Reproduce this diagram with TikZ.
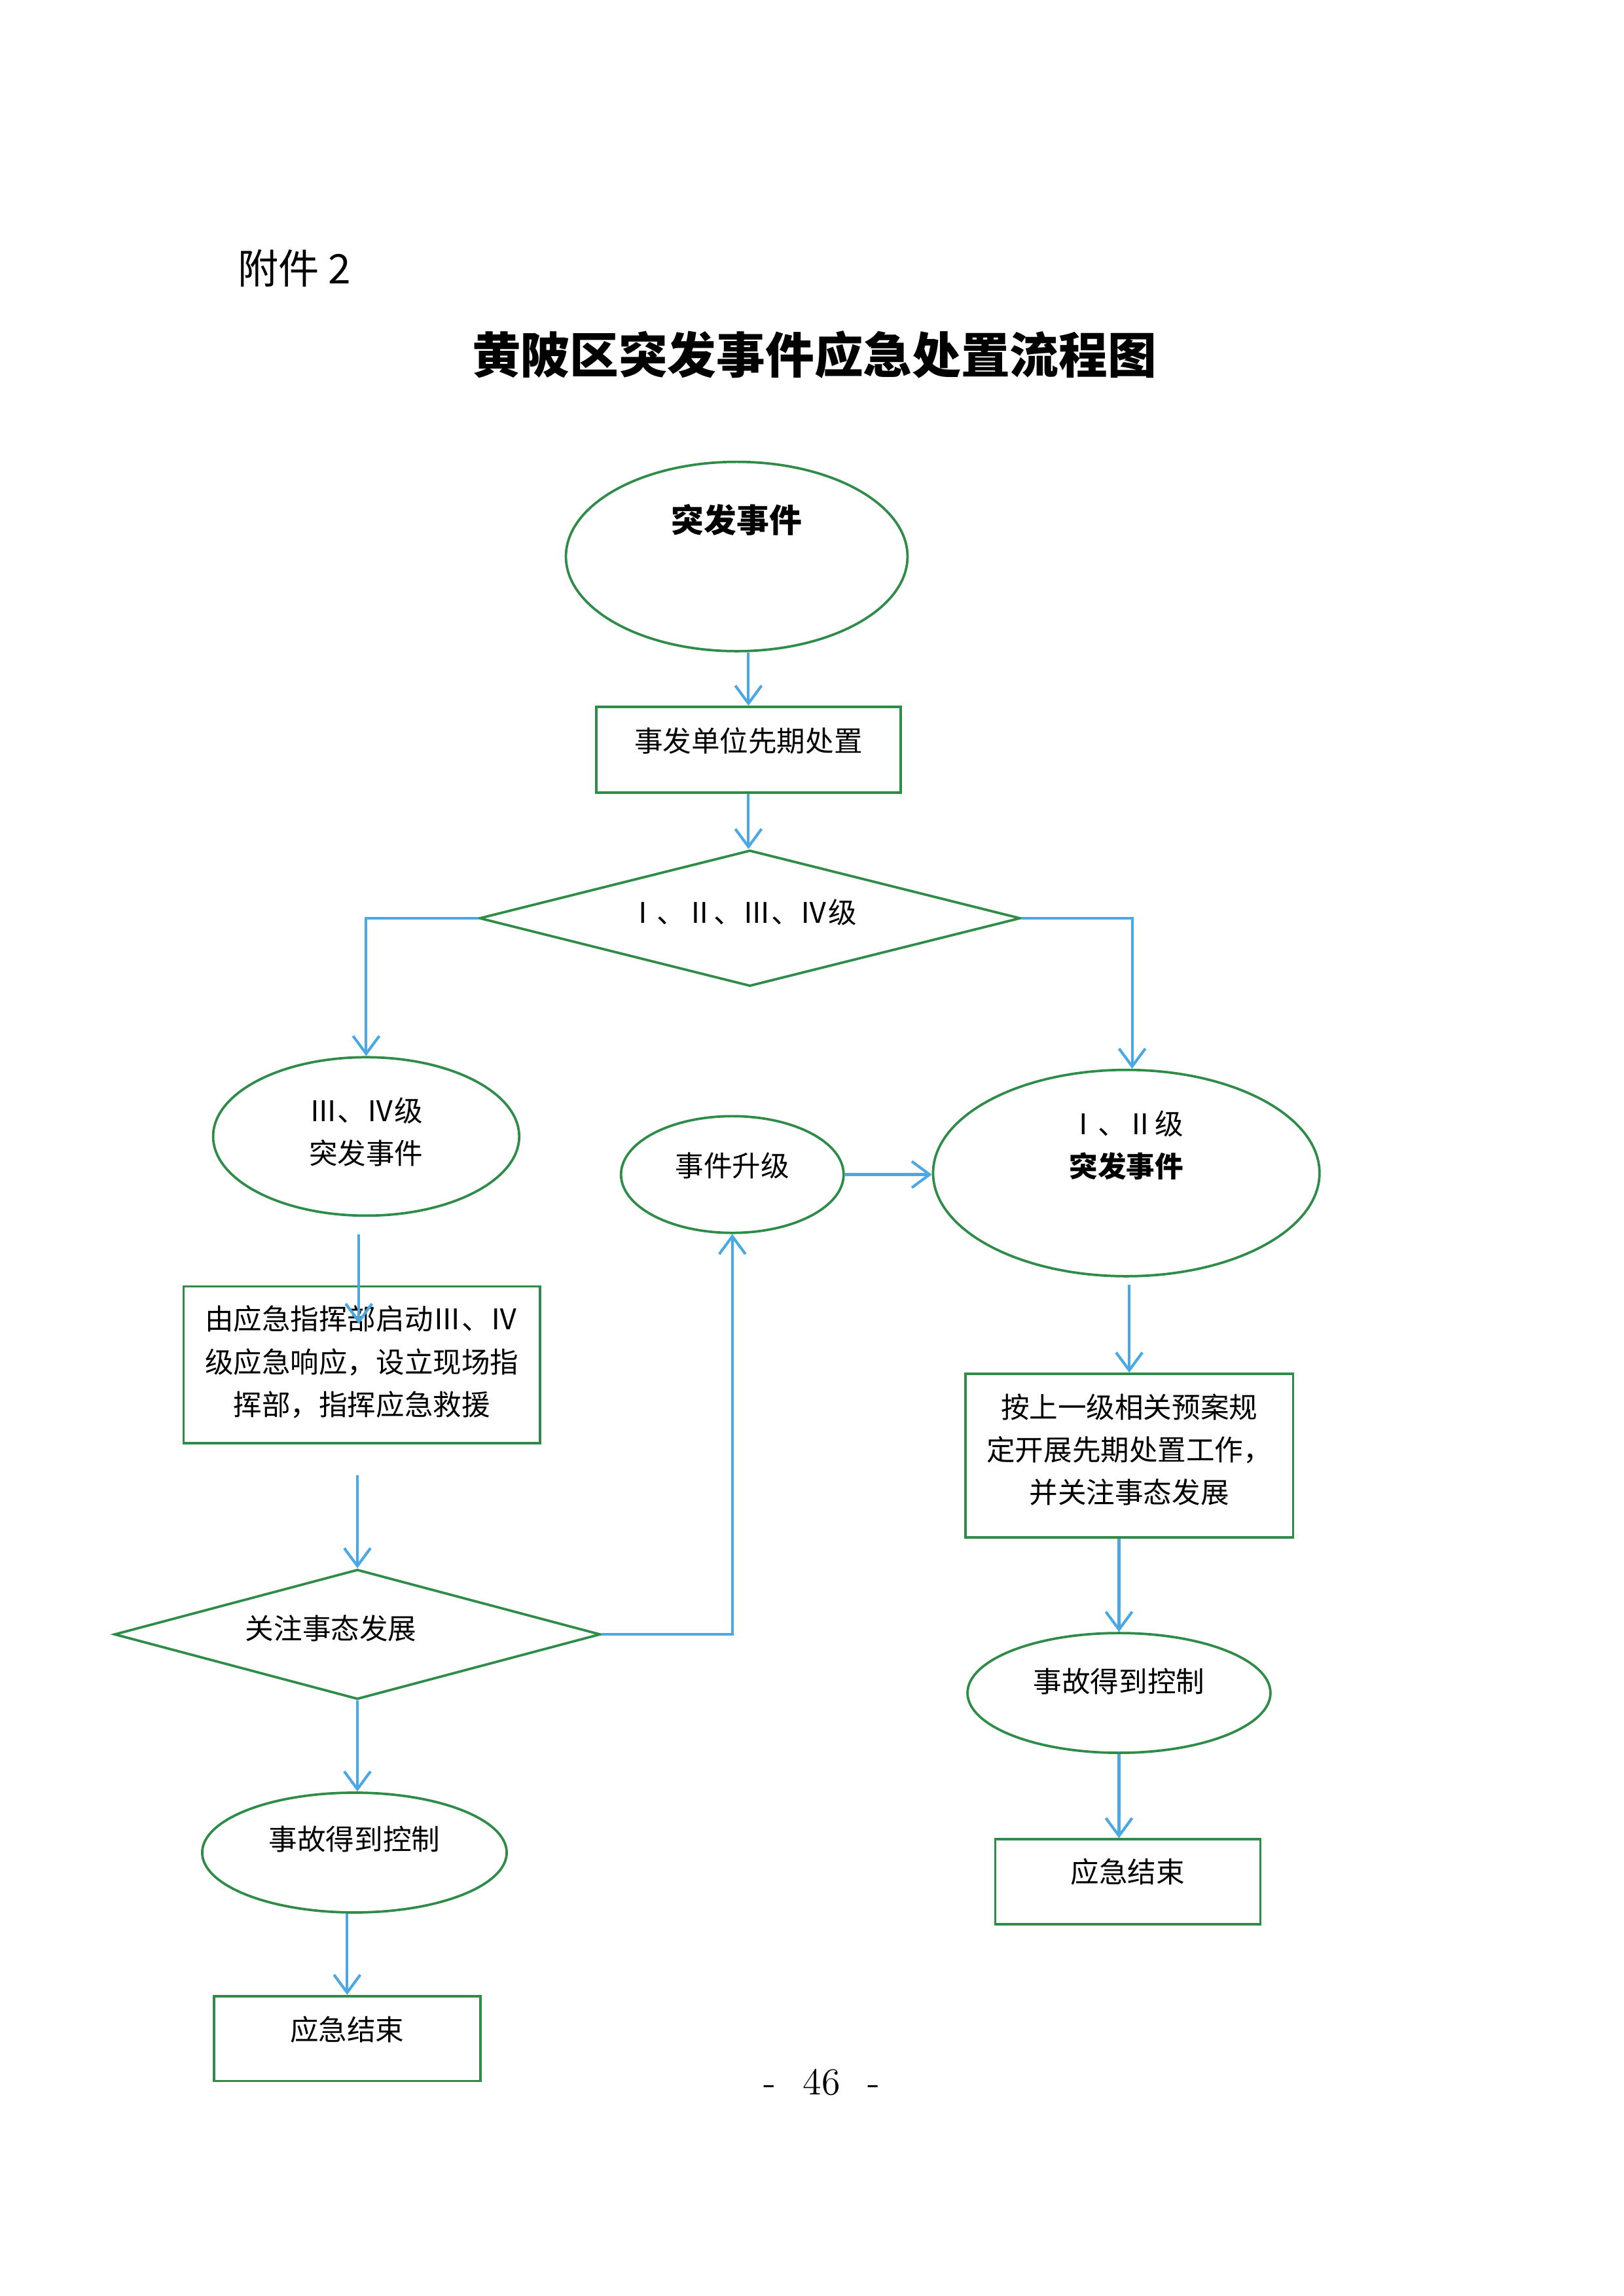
\documentclass[tikz,border=0pt]{standalone}
\usepackage{fontspec}
\newfontfamily\cjk{Noto Sans CJK SC}
\usetikzlibrary{shapes.geometric,arrows.meta,calc}
\definecolor{boxgreen}{RGB}{46,139,72}
\definecolor{arrowblue}{RGB}{74,168,228}
\tikzset{
  oval/.style={ellipse,draw=boxgreen,line width=0.9pt,inner sep=0pt},
  rect/.style={rectangle,draw=boxgreen,line width=0.9pt,inner sep=0pt},
  rhomb/.style={diamond,draw=boxgreen,line width=0.9pt,inner sep=0pt},
  lbl/.style={font=\cjk\fontsize{10.5pt}{15.7pt}\selectfont,align=center,inner sep=0pt},
  arr/.style={->,draw=arrowblue,line width=1pt}
}
\begin{document}
\begin{tikzpicture}[x=0.018944cm,y=-0.018944cm,>={Straight Barb[length=2.3mm,width=3.4mm]}]
\useasboundingbox (0,0) rectangle (1108.5,1567.8);

\node[font=\cjk\fontsize{15pt}{18pt}\selectfont,anchor=west,inner sep=0pt] (head) at (162,183) {附件 2};
\node[font=\cjk\bfseries\fontsize{18pt}{22pt}\selectfont,inner sep=0pt] (title) at (556,242) {黄陂区突发事件应急处置流程图};

% shapes
\node[oval,minimum width=4.42cm,minimum height=2.45cm] (e1) at (503,380) {};
\node[rect,minimum width=3.94cm,minimum height=1.11cm] (b1) at (511,512) {};
\node[rhomb,minimum width=7.0cm,minimum height=1.76cm] (d1) at (512,627) {};
\node[oval,minimum width=3.96cm,minimum height=2.05cm] (e2) at (250,776) {};
\node[oval,minimum width=2.88cm,minimum height=1.51cm] (e3) at (500,802) {};
\node[oval,minimum width=5.0cm,minimum height=2.67cm] (e4) at (769,801) {};
\node[rect,minimum width=4.61cm,minimum height=2.03cm] (b2) at (247,932) {};
\node[rhomb,minimum width=6.29cm,minimum height=1.68cm] (d2) at (244,1116) {};
\node[oval,minimum width=3.94cm,minimum height=1.55cm] (e5) at (242,1265) {};
\node[rect,minimum width=3.45cm,minimum height=1.10cm] (b4) at (237,1392) {};
\node[rect,minimum width=4.24cm,minimum height=2.12cm] (b3) at (771,994) {};
\node[oval,minimum width=3.92cm,minimum height=1.55cm] (e6) at (764,1156) {};
\node[rect,minimum width=3.43cm,minimum height=1.10cm] (b5) at (770,1285) {};
\coordinate (rturn) at (773,627);

% texts
\node[lbl,font=\cjk\bfseries\fontsize{12pt}{15pt}\selectfont] (t1) at (503,355) {突发事件};
\node[lbl] (t2) at (511,506) {事发单位先期处置};
\node[lbl] (t3) at (507,623) {Ⅰ、Ⅱ、Ⅲ、Ⅳ级};
\node[lbl] (t4) at (250,773) {Ⅲ、Ⅳ级\\突发事件};
\node[lbl] (t5) at (500,796) {事件升级};
\node[lbl] (t6) at (769,782) {Ⅰ、Ⅱ级\\\textbf{突发事件}};
\node[lbl] (t7) at (247,930) {由应急指挥部启动Ⅲ、Ⅳ\\级应急响应，设立现场指\\挥部，指挥应急救援};
\node[lbl] (t8) at (226,1112) {关注事态发展};
\node[lbl] (t9) at (242,1256) {事故得到控制};
\node[lbl] (t10) at (237,1386) {应急结束};
\node[lbl] (t11) at (771,990) {按上一级相关预案规\\定开展先期处置工作，\\并关注事态发展};
\node[lbl] (t12) at (764,1148) {事故得到控制};
\node[lbl] (t13) at (770,1278) {应急结束};

\node[font=\fontsize{14pt}{16pt}\selectfont,inner sep=0pt] (page) at (561,1422) {-\hspace{0.35cm}46\hspace{0.35cm}-};

% connectors
\draw[arr] (e1.south -| b1) -- (b1.north);
\draw[arr] (b1.south) -- (b1.south |- d1.north);
\draw[arr] (d1.west) -| (e2.north);
\draw[arr] (d1.east) -- (rturn) -- (rturn |- e4.north);
\draw[arr] ($(e2.south)+(-5,12)$) -- ($(e2.south)+(-5,73)$);
\draw[arr] ($(b2.south)+(-3,21)$) -- (d2.north);
\draw[arr] (d2.east) -| (e3.south);
\draw[arr] (d2.south) -- (d2.south |- e5.north);
\draw[arr] (e5.south -| b4) -- (b4.north);
\draw[arr] (e3.east) -- (e3.east -| e4.west);
\draw[arr] ($(e4.south -| b3)+(0,5)$) -- (b3.north);
\draw[arr] (b3.south -| e6) -- (e6.north);
\draw[arr] (e6.south) -- (e6.south |- b5.north);
\end{tikzpicture}
\end{document}
